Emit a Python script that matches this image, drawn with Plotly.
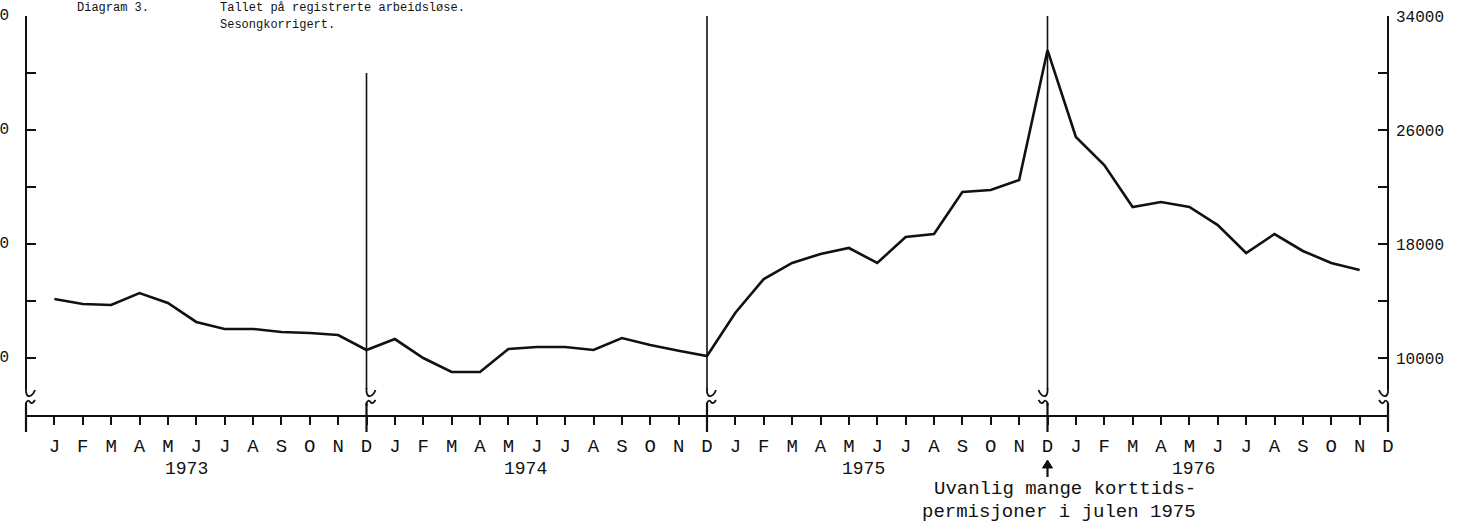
import plotly.graph_objects as go

# ---------------- data ----------------
months = ["J", "F", "M", "A", "M", "J", "J", "A", "S", "O", "N", "D"]
years = ["1973", "1974", "1975", "1976"]
year_label_pos = [5.67, 17.62, 29.53, 41.13]   # month index where the year label is centred

v1973 = [14140, 13790, 13720, 14560, 13860, 12530, 12040, 12040, 11820, 11750, 11610, 10560]
v1974 = [11330, 10000, 9020, 9020, 10630, 10770, 10770, 10560, 11400, 10910, 10510, 10140]
v1975 = [13180, 15540, 16670, 17300, 17720, 16670, 18490, 18700, 21650, 21790, 22490, 31600]
v1976 = [25510, 23545, 20600, 20950, 20600, 19330, 17370, 18700, 17510, 16670, 16180]

y_major = [10000, 18000, 26000, 34000]
y_minor = [14000, 22000, 30000]
y_range = [6000, 34000]

values = v1973 + v1974 + v1975 + v1976
month_idx = list(range(1, len(values) + 1))

tick_vals = list(range(1, 49))
tick_text = months * 4
year_bounds = [0, 12, 24, 36, 48]
bound_tops = [34000, 30000, 34000, 34000, 34000]

# ---------------- geometry helpers ----------------
W, H = 1460, 524
L, R, T, B = 26, 72, 16, 109
PW = W - L - R
PH = H - T - B
XPX = PW / 48.0


def m2p(m):
    """month index -> paper x"""
    return m / 48.0


def v2p(v):
    """value -> paper y"""
    return (v - y_range[0]) / (y_range[1] - y_range[0])


def paper_x(px):
    return (px - L) / PW


def paper_y(py):
    return (H - B - py) / PH


FONT = "Liberation Mono, DejaVu Sans Mono, monospace"
INK = "#111111"

fig = go.Figure()
fig.add_trace(go.Scatter(x=month_idx, y=values, mode="lines",
                         line=dict(color=INK, width=2.6), hoverinfo="skip",
                         showlegend=False))
fig.add_trace(go.Scatter(x=month_idx, y=values, mode="lines", yaxis="y2",
                         line=dict(color="rgba(0,0,0,0)", width=0), hoverinfo="skip",
                         showlegend=False))

shapes = []


def seg_path(mx, pts, close=False):
    parts = []
    for cmd, coords in pts:
        c = " ".join(f"{paper_x(L + mx * XPX + dx):.5f},{paper_y(py):.5f}" for dx, py in coords)
        parts.append(f"{cmd}{c}")
    return " ".join(parts) + (" Z" if close else "")


for i, (mb, top) in enumerate(zip(year_bounds, bound_tops)):
    s = 1 if i < 3 else -1
    w = 2.0 if i in (0, 4) else 1.6
    # vertical line down to the break
    shapes.append(dict(type="line", xref="paper", yref="paper", x0=m2p(mb), x1=m2p(mb),
                       y0=v2p(top), y1=paper_y(389), line=dict(color=INK, width=w)))
    # upper hook of the break
    shapes.append(dict(type="path", xref="paper", yref="paper",
                       path=seg_path(mb, [("M", [(0, 388)]), ("L", [(0, 392)]),
                                          ("Q", [(s * 1, 397), (s * 4, 396)]),
                                          ("Q", [(s * 7, 395), (s * 9, 390)])]),
                       line=dict(color=INK, width=1.8)))
    # lower tilde of the break
    shapes.append(dict(type="path", xref="paper", yref="paper",
                       path=seg_path(mb, [("M", [(0, 406)]), ("L", [(0, 403)]),
                                          ("Q", [(s * 2, 399), (s * 4, 402)]),
                                          ("Q", [(s * 6, 405), (s * 9, 400)])]),
                       line=dict(color=INK, width=1.8)))
    # big tick through the axis
    shapes.append(dict(type="line", xref="paper", yref="paper", x0=m2p(mb), x1=m2p(mb),
                       y0=paper_y(403), y1=paper_y(432), line=dict(color=INK, width=2.2)))

# arrow under the December 1975 tick
arrow_m = 36
shapes.append(dict(type="line", xref="paper", yref="paper", x0=m2p(arrow_m), x1=m2p(arrow_m),
                   y0=paper_y(477), y1=paper_y(465), line=dict(color=INK, width=2.2)))
shapes.append(dict(type="path", xref="paper", yref="paper",
                   path=seg_path(arrow_m, [("M", [(-5, 468)]), ("L", [(0, 460)]),
                                           ("L", [(5, 468)])], close=True),
                   fillcolor=INK, line=dict(color=INK, width=1)))

annotations = []
# left-side (cut-off) labels of the left axis
for v in y_major:
    annotations.append(dict(xref="paper", yref="paper", x=paper_x(11), y=v2p(v), text=str(v),
                            showarrow=False, xanchor="right", yanchor="middle",
                            font=dict(family=FONT, size=16, color=INK)))
# year labels
for yl, xp in zip(years, year_label_pos):
    annotations.append(dict(xref="paper", yref="paper", x=m2p(xp), y=paper_y(469), text=yl,
                            showarrow=False, xanchor="center", yanchor="middle",
                            font=dict(family=FONT, size=18, color=INK)))
# title
annotations.append(dict(xref="paper", yref="paper", x=paper_x(75), y=paper_y(8),
                        text="Diagram 3.", showarrow=False, xanchor="left", yanchor="middle",
                        font=dict(family=FONT, size=12, color=INK)))
annotations.append(dict(xref="paper", yref="paper", x=paper_x(218), y=paper_y(8),
                        text="Tallet på registrerte arbeidsløse.", showarrow=False,
                        xanchor="left", yanchor="middle",
                        font=dict(family=FONT, size=12, color=INK)))
annotations.append(dict(xref="paper", yref="paper", x=paper_x(218), y=paper_y(25),
                        text="Sesongkorrigert.", showarrow=False, xanchor="left",
                        yanchor="middle", font=dict(family=FONT, size=12, color=INK)))
# note
annotations.append(dict(xref="paper", yref="paper", x=paper_x(1198), y=paper_y(489),
                        text="Uvanlig mange korttids-", showarrow=False, xanchor="right",
                        yanchor="middle", font=dict(family=FONT, size=19, color=INK)))
annotations.append(dict(xref="paper", yref="paper", x=paper_x(1198), y=paper_y(512),
                        text="permisjoner i julen 1975", showarrow=False, xanchor="right",
                        yanchor="middle", font=dict(family=FONT, size=19, color=INK)))

yticks = sorted(y_major + y_minor)
ytext_blank = ["" for _ in yticks]
ytext_right = [str(v) if v in y_major else "" for v in yticks]

fig.update_layout(
    width=W, height=H,
    margin=dict(l=L, r=R, t=T, b=B, pad=0, autoexpand=False),
    paper_bgcolor="white", plot_bgcolor="white",
    showlegend=False,
    font=dict(family=FONT, color=INK),
    xaxis=dict(range=[0, 48], tickmode="array", tickvals=tick_vals, ticktext=tick_text,
               ticks="outside", ticklen=8, tickwidth=2, tickcolor=INK,
               showline=True, linewidth=2, linecolor=INK, showgrid=False, zeroline=False,
               tickfont=dict(family=FONT, size=19, color=INK), ticklabelstandoff=4,
               automargin=False, fixedrange=True),
    yaxis=dict(range=y_range, tickmode="array", tickvals=yticks, ticktext=ytext_blank,
               ticks="inside", ticklen=10, tickwidth=2, tickcolor=INK,
               showline=False, showgrid=False, zeroline=False, automargin=False,
               fixedrange=True),
    yaxis2=dict(range=y_range, overlaying="y", side="right", tickmode="array",
                tickvals=yticks, ticktext=ytext_right,
                ticks="inside", ticklen=10, tickwidth=2, tickcolor=INK,
                showline=False, showgrid=False, zeroline=False,
                tickfont=dict(family=FONT, size=16, color=INK), ticklabelstandoff=7,
                automargin=False, fixedrange=True),
    shapes=shapes,
    annotations=annotations,
)

fig.write_html("out.html", config={"displayModeBar": False},
               post_script="document.body.style.margin='0px';document.body.style.overflow='hidden';")
